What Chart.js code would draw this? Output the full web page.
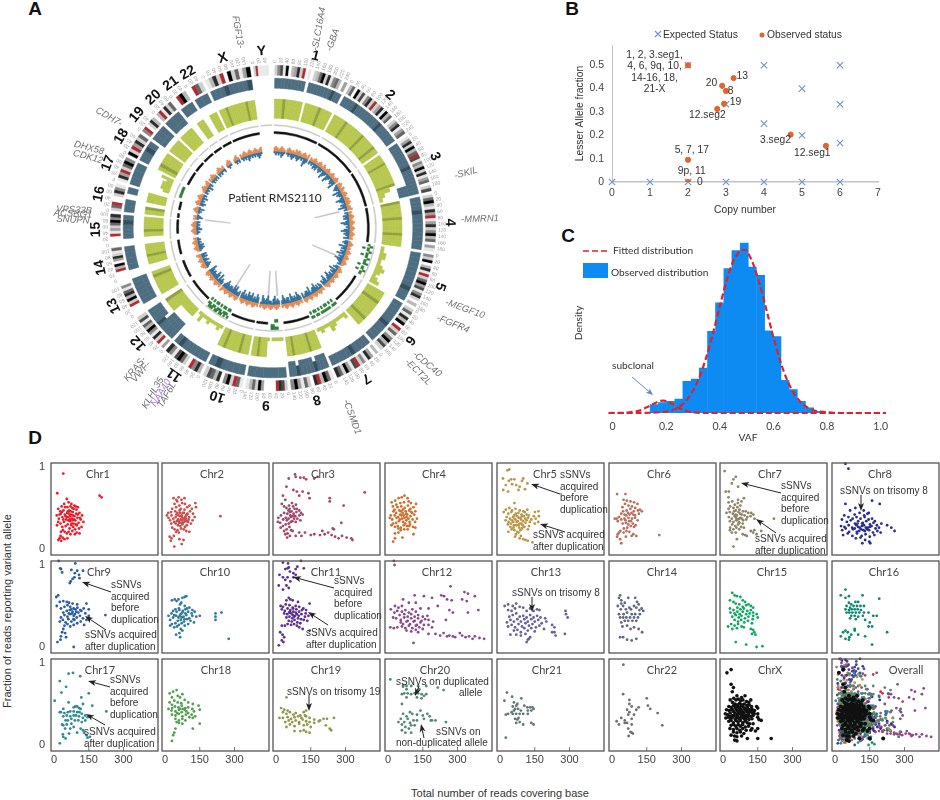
<!DOCTYPE html>
<html>
<head>
<meta charset="utf-8">
<title>Patient RMS2110</title>
<script src="https://cdn.jsdelivr.net/npm/chart.js@4/dist/chart.umd.min.js"></script>
<style>
  html, body { margin: 0; padding: 0; background: #fff; }
  #page { position: relative; width: 940px; height: 800px; overflow: hidden; }
  #page canvas { position: absolute; }
  .lbl { position: absolute; font-family: "Liberation Sans", sans-serif; color: #333; white-space: nowrap; }
  .letter { font-weight: bold; font-size: 19px; color: #111; transform: translate(-50%, -50%); }
</style>
</head>
<body>
<div id="page">
  <div class="lbl letter" style="left:35px;top:9px">A</div>
  <div class="lbl letter" style="left:572px;top:9px">B</div>
  <div class="lbl letter" style="left:568px;top:236px">C</div>
  <div class="lbl letter" style="left:35px;top:438px">D</div>
  <div class="lbl" style="left:7px;top:611px;font-size:11px;transform:translate(-50%,-50%) rotate(-90deg)">Fraction of reads reporting variant allele</div>
  <div class="lbl" style="left:500px;top:793px;font-size:11px;transform:translate(-50%,-50%)">Total number of reads covering base</div>
</div>
<script>
// panel A: one string per chromosome, one character per genome bin
const chrNames = ['1','2','3','4','5','6','7','8','9','10','11','12','13','14','15','16','17','18','19','20','21','22','X','Y'];
const chrLens = [249,243,198,191,181,171,159,146,141,135,135,133,115,107,102,90,81,78,59,63,48,51,155,59];
const ideogram = ['2571903482r010236928156304','3609271582r24819360258146','1482936r7153928146027','2693184r14825936041','5290381r26947158203','2618390r26159372','3048152r7149268','1693r80261495','278r0000492631','16r295083672','385r02697158','40r2815936172','000r29386150','000r39048216','000r1426958','26r002851','184r2695','92r4826','5r0283','3r1826','0r93','0r62','1382r0926149','2r111110'];
const cnTrack = ['11111111101111111d11','1111d11111111d111111','1111111d1111333','111d11111111','1111111d11','11111d1111','1111d11111','222d2222d22','11111','1111d1','111111d1','33333d2222','0222222','01111','0111d1','1101','111','11d1','222','22','11','11','111d1111d',''];
const alleleTrack = ['666x666666066666x6666','66666x6666666x66666x66','6666x666666666x442211','x66666x66666x6666','112211232123','666x66666x66','2111231121','6666x666666x66','1111101666x66','666x66666x66','1211121131','3333336666x','0666666x6','00666x6666','0066x66666','66x006666','0233324','6x666','6666','6666','066','066','666x66666666x666',''];
const blackTrack = ['1','1','1','1','0','1','0','1','000001111','1','0','1','0111111','0111','0111','1011','0','1','1','1','1','1','1','0'];
const dotOuter = ['','','','','0100100010010001000','','','','0110000','','10101101101110','','','','','','','','','','','','',''];
const dotMid = ['','','','','1011011101110110110','','1110111111011011','','0010000','','01110111011011','','','','','','01111110','','','','','','',''];
const dotInner = ['','','','','0010001000001001000','','0101011010101101','','0100000','','11011010110101','','','','','','','','','','','','',''];
const blueTrack = ['1212132101212321232121432','212132312321432143212324','12321423212432132412','2132312431213423213','2321423132413243212','23142313243214323','23132433214233213','234232341332342','23243122432341','34232433423243','32243423323432','2324134223234','012321321323','01232312121','0121321212','1321012131','23121312','2121312','121212','212112','01211','01212','1212132121212321','000000'];
const orangeTrack = ['2321232102321213232123213','212321232132123212321232','23213212321232321223','2123212321232123212','1232121232123212321','12321232123212321','21232123212321232','212321232123212','12321232123212','21232123212321','23212321232123','2123212321232','012321232123','01232123212','0123212321','2120012321','23212321','1232123','212321','123212','01232','01231','2123212321232123','000000'];
const radialLines = ['','','000000000000000000001','','0000000000000100000','','','','01000000100000','','00000100000000','','','','','10000000000','','','','','','','',''];
const tickStep = 20;

// panel A gene labels
const geneNames = ['FGF13-','-SLC16A4','-GBA','-SKIL','-MMRN1','-MEGF10','-FGFR4','-CDC40','-ECT2L','-CSMD1','KRAS-','VWF-','KLHL35','NAA40','TAF6L','CDH7-','DHX58','CDK12','VPS33B','ACSBG1','SNUPN'];

// panel B
const expectedCN = [0,1,2,3,4,5,6,2,3,4,4,5,5,6,6,6];
const expectedLAF = [0,0,0,0,0,0,0,0.5,0.333,0.25,0.5,0.2,0.4,0.167,0.333,0.5];
const observedCN = [2,3.2,2.9,3.0,2.95,2.77,4.7,5.63,2,2];
const observedLAF = [0.5,0.445,0.412,0.39,0.335,0.313,0.203,0.155,0.095,0];

// panel C
const vafBins = [0.155,0.186,0.216,0.247,0.277,0.308,0.338,0.369,0.399,0.43,0.46,0.491,0.521,0.552,0.582,0.613,0.643,0.674,0.704,0.735,0.765];
const vafDensity = [0.25,0.31,0.34,0.41,0.93,1.0,1.32,2.4,3.24,4.25,4.78,5.0,4.29,4.05,2.42,2.25,0.96,0.69,0.34,0.15,0.05];
const fitX = [-0.015,0.05,0.1,0.15,0.2,0.225,0.25,0.275,0.3,0.325,0.35,0.375,0.4,0.425,0.45,0.475,0.49,0.5,0.525,0.55,0.575,0.6,0.625,0.65,0.675,0.7,0.725,0.75,0.775,0.8,0.85,1.02];
const fitMain = [0,0,0,0.01,0.04,0.09,0.19,0.37,0.66,1.08,1.66,2.37,3.15,3.89,4.47,4.77,4.8,4.78,4.37,3.75,3.0,2.22,1.53,0.99,0.59,0.33,0.17,0.08,0.04,0.02,0,0];
const subX = [-0.015,0.05,0.1,0.125,0.15,0.175,0.19,0.2,0.225,0.25,0.275,0.3,0.35,0.6,1.02];
const subFit = [0,0.01,0.07,0.16,0.26,0.35,0.365,0.35,0.26,0.14,0.06,0.02,0,0,0];

// panel D: flat x, y*100 pairs
const chr1 = [40,92,197,65,205,63,14,68,63,57,71,52,55,61,44,55,88,53,97,48,33,52,27,46,18,49,12,41,21,37,29,43,36,39,41,47,47,42,52,36,57,44,61,39,66,47,69,34,73,42,77,37,81,45,84,31,88,40,92,35,96,43,101,38,106,32,110,44,115,36,121,41,127,33,119,27,108,25,99,29,91,24,83,27,74,29,67,25,59,30,50,28,43,33,36,27,28,31,18,33,13,29,46,21,55,19,63,21,71,18,79,22,90,18,98,20,110,19,30,21,38,23,24,13,31,10,19,11,28,16,37,14,45,12,58,13,79,50,75,55,85,49,93,52,103,51,48,51,58,51,64,43,70,40,80,35,86,36,62,35,55,39,76,31,94,30,72,46,82,41,68,36,60,46,50,40,40,36,34,45,103,42,112,38,24,42];
const chr2 = [239,40,37,62,49,60,59,63,71,60,84,62,74,56,53,58,41,55,62,53,86,55,106,53,131,56,134,51,116,49,96,51,68,49,48,51,31,49,26,45,14,44,8,41,15,38,28,41,44,46,53,44,63,47,76,44,84,48,97,43,108,46,121,43,128,39,119,35,104,39,95,42,87,39,78,37,66,40,56,36,46,39,36,37,22,35,27,31,39,33,51,34,61,32,73,35,81,33,90,37,100,33,112,31,94,29,86,27,75,30,66,28,56,29,46,31,31,26,41,24,54,23,69,25,81,24,92,22,60,20,48,21,38,16,28,13,20,15,25,10,62,12,40,3,72,6,80,11,105,21,72,41,82,44,91,41,58,41,68,36,78,32,88,34,49,42,102,36,64,44,74,39,84,36,94,34,60,34,70,32];
const chr3 = [55,86,82,91,85,88,105,87,120,87,130,85,165,86,180,88,45,76,75,72,90,70,100,65,115,70,140,68,145,62,383,69,292,53,232,62,232,58,282,32,245,25,40,18,48,14,60,16,72,22,85,16,100,20,110,16,125,20,150,17,165,18,190,17,200,22,210,18,225,20,240,17,250,24,255,15,270,13,285,16,305,14,325,13,330,11,30,65,40,60,25,55,35,52,56,53,69,56,86,54,45,50,59,49,74,52,90,49,100,47,108,44,115,42,101,41,88,45,76,43,60,45,49,43,35,44,21,41,10,38,8,33,18,32,31,36,42,38,54,37,64,39,78,37,92,37,105,35,85,33,71,34,55,31,42,30,30,28,20,26,46,24,58,27,65,23,50,19,35,22,67,46,80,49,54,47,72,40,62,41,83,40,47,35,64,33];
const chr4 = [30,19,45,20,30,13,62,14,22,9,110,18,16,57,31,59,46,62,59,63,71,65,84,62,99,56,121,55,89,58,69,57,53,56,36,54,21,52,28,48,41,51,57,52,72,50,86,53,97,49,110,51,118,46,104,44,91,47,76,46,63,44,49,47,35,44,23,46,12,41,8,38,18,36,29,41,44,39,58,41,71,38,83,42,97,40,113,42,125,37,117,33,106,36,93,33,79,35,65,33,51,36,35,32,22,31,15,29,30,27,42,28,55,26,68,29,82,28,95,30,108,27,118,26,70,24,55,23,45,25,85,24,64,48,78,43,88,37,100,45,52,42,61,37,74,31,91,28,37,38,47,34,68,41,80,39,56,46];
const chr5 = [32,96,40,97,13,86,25,78,38,83,48,85,52,79,62,85,70,78,95,83,100,86,85,76,80,72,118,80,108,73,14,72,35,70,62,56,25,48,16,45,40,50,52,47,67,49,85,47,101,46,118,48,151,45,166,46,36,43,49,45,61,41,79,44,93,42,107,45,124,41,146,40,168,40,29,39,43,37,56,39,68,43,81,38,95,40,109,37,121,38,135,36,154,37,165,33,24,35,37,33,51,35,63,37,76,34,88,38,100,34,115,35,129,33,150,31,34,30,47,31,60,29,72,33,85,31,98,29,110,32,125,28,45,27,58,26,70,29,83,26,95,25,105,27,120,24,62,23,75,21,88,23,36,21,50,24,69,18,80,20,90,16,65,15,85,13,100,12,110,11,120,10,140,8,74,40,91,36,66,36,103,40,57,33,79,29,115,42,92,31];
const chr6 = [22,67,58,67,50,60,64,59,80,58,95,57,110,55,71,53,56,55,45,51,86,52,100,50,121,48,129,46,112,47,94,46,79,49,63,47,48,46,40,43,54,42,69,44,84,44,100,41,116,43,30,39,20,37,12,37,25,34,40,36,54,37,71,38,86,37,99,38,111,35,46,31,60,32,74,34,90,31,102,29,81,28,66,26,95,27,51,25,36,22,25,18,22,15,30,20,35,12,50,20,62,22,75,21,92,18,105,16,60,15,85,16,40,7,204,17,76,42,62,41,92,42,58,35,82,34,70,30];
const chr7 = [7,95,45,85,55,88,38,80,65,76,12,70,25,70,24,63,24,57,65,60,90,62,40,58,64,56,80,58,51,54,62,51,75,53,31,52,24,49,45,50,55,47,71,48,86,46,98,46,109,44,122,44,131,42,15,44,29,45,42,43,54,42,67,45,81,42,93,41,105,39,119,40,136,37,25,39,38,37,50,40,62,36,76,38,87,35,100,36,30,34,45,33,57,35,71,32,85,31,40,30,53,28,65,30,78,27,31,26,45,24,58,26,70,24,90,26,120,22,130,20,135,23,145,18,165,22,220,37,38,20,30,23,85,18,95,17,103,16,55,20,60,12,45,3,60,41,70,37,56,38,48,46,74,43,68,33,82,37];
const chr8 = [45,104,58,98,160,59,193,55,45,55,88,50,124,47,146,44,65,47,85,42,106,44,126,41,140,43,40,41,58,39,76,37,93,39,110,37,128,39,145,36,160,37,172,34,30,36,51,33,68,35,86,31,100,34,117,31,135,34,151,30,166,32,181,29,200,31,26,28,41,27,59,29,74,26,92,29,107,26,125,29,141,26,158,28,175,25,190,26,31,23,46,25,61,21,78,24,94,21,113,24,129,22,147,23,164,20,183,22,197,20,35,17,55,19,75,16,95,19,115,16,132,18,150,15,170,17,90,13,110,14,130,11,148,9,118,7,152,7,225,29,243,26,257,22,100,27,116,28,133,26,150,27,85,25,122,23,139,24,104,22,120,32,97,31];
const chr9 = [20,105,92,102,30,95,27,96,35,91,75,94,90,90,100,93,108,88,125,93,72,80,80,83,88,85,68,78,110,84,18,63,10,61,25,55,40,56,55,55,65,54,80,53,100,52,140,53,12,50,30,47,45,49,58,51,70,49,85,47,101,48,113,45,128,47,150,46,222,39,40,42,55,44,68,45,80,43,92,46,105,42,118,44,135,41,150,38,30,36,45,39,58,37,70,40,85,38,98,36,112,38,125,35,140,33,25,31,38,33,50,30,62,34,75,31,88,33,100,29,115,31,130,27,45,26,58,28,70,25,85,27,40,22,35,18,48,17,30,13,52,12,28,9,15,6,85,0,78,41,90,40,74,46,64,41,96,43,84,34];
const chr10 = [30,57,42,58,50,56,58,58,65,52,75,60,85,61,92,62,70,54,85,50,95,47,105,48,118,45,60,47,45,46,35,44,50,43,62,45,75,42,88,46,100,43,115,41,128,43,40,39,28,41,15,38,22,33,35,36,48,38,58,36,68,40,80,37,92,39,105,35,118,38,135,37,150,38,55,32,68,33,82,31,95,34,110,32,125,30,45,29,60,27,72,29,85,26,100,28,30,28,22,26,40,24,52,25,68,22,75,20,62,17,48,15,65,12,218,41,244,42,218,37,218,33,275,10,77,44,88,41,72,36,84,34,64,38];
const chr11 = [30,103,52,102,108,105,40,95,50,96,55,97,85,95,92,98,120,96,75,90,85,88,60,92,15,88,30,85,40,82,50,85,62,80,75,85,12,75,30,70,45,75,55,72,55,60,62,58,45,57,72,57,95,55,145,53,20,50,30,49,42,52,58,51,72,48,85,50,100,49,118,47,130,45,25,46,38,44,50,47,62,45,75,43,88,46,100,43,112,45,128,41,35,41,48,40,60,43,72,39,85,42,98,38,110,40,125,37,140,38,45,36,58,37,70,35,82,38,95,35,108,34,120,33,135,32,55,32,68,31,80,33,92,30,105,29,65,27,78,28,90,26,50,28,38,26,100,24,115,22,145,20,25,26,18,18,28,15,35,12,25,8,12,2,32,6,66,41,78,37,90,40,74,47,57,42];
const chr12 = [25,105,28,100,270,74,330,67,345,65,375,62,230,63,242,62,255,58,275,57,320,58,340,56,115,63,155,62,190,60,65,58,90,54,120,54,60,50,45,48,30,50,12,46,28,42,22,36,40,44,60,43,75,45,90,42,105,46,120,43,140,47,175,47,215,50,265,45,280,42,345,42,390,45,50,39,70,40,85,37,100,40,115,37,130,39,150,37,170,38,35,35,55,33,70,36,85,32,100,35,115,32,130,35,145,32,160,34,175,33,195,31,250,33,10,24,25,23,40,24,55,30,65,28,80,31,95,28,110,31,125,27,140,30,155,27,175,27,190,24,60,25,75,23,90,26,105,23,120,26,135,24,150,22,80,20,100,19,120,21,130,18,175,16,205,16,225,14,240,17,255,13,265,14,280,13,290,12,310,17,320,14,335,12,350,13,365,10,375,13,395,11,415,10,110,5];
const chr13 = [20,50,35,52,55,50,70,53,85,49,35,45,50,44,65,47,100,48,115,44,130,47,145,44,160,46,170,45,283,44,285,40,292,36,40,37,55,39,70,41,85,37,100,38,115,36,130,39,145,36,160,38,175,36,195,35,30,30,45,33,60,31,75,34,90,31,105,34,120,31,135,34,150,31,165,33,180,29,200,31,225,27,235,24,35,25,50,27,65,24,80,28,95,25,110,29,125,26,140,28,155,24,170,26,190,22,60,20,75,21,90,18,105,23,120,20,135,23,150,19,70,15,90,14,110,16,130,12,120,9,115,6,125,10,225,18,235,18,240,14,280,16,45,15];
const chr14 = [35,63,40,57,70,60,100,60,108,55,115,52,55,54,40,53,25,50,48,50,75,48,95,50,105,48,128,47,38,46,60,46,82,46,118,45,135,44,30,40,50,40,65,42,85,40,100,40,120,40,35,36,48,36,62,36,78,36,95,36,112,36,40,30,55,32,70,32,88,32,105,32,65,26,45,25,80,22,95,24,115,22,35,12,48,12,65,9,85,8,105,10,130,18,30,60];
const chr15 = [40,66,50,63,60,62,75,61,85,57,95,55,110,52,30,57,45,55,55,53,70,52,85,49,100,51,120,50,130,48,30,47,45,45,62,48,75,46,90,47,105,44,120,45,130,42,145,40,32,42,50,41,62,43,72,40,85,43,100,40,115,41,130,38,150,36,40,37,55,39,68,36,80,38,95,35,110,37,128,34,50,33,65,31,78,33,92,30,108,32,125,29,35,28,50,26,65,28,80,25,22,25,40,22,60,23,90,24,120,22,130,21,135,18,125,16,140,15,55,6,100,3,145,0,170,1];
const chr16 = [45,70,25,63,60,62,119,63,191,59,45,60,60,54,88,55,70,52,100,55,50,50,65,48,80,50,95,50,110,50,125,50,45,46,60,45,72,46,85,46,98,46,112,45,50,42,62,42,75,42,90,42,105,42,125,42,145,42,165,38,180,38,70,38,85,38,100,37,120,38,65,35,90,34,130,33,150,30,160,25,25,13,35,18,45,20,55,18,62,12,70,15,85,22,100,15,45,10,60,9,85,20,145,25,225,18,160,3,130,13];
const chr17 = [63,87,82,88,113,84,25,78,52,71,32,64,118,58,150,63,3,54,63,52,85,46,92,47,100,47,108,45,115,44,125,50,165,48,226,41,40,44,30,40,25,40,45,39,60,40,70,41,85,41,100,40,110,40,120,38,135,36,145,34,155,35,40,35,55,36,70,35,85,36,95,36,108,35,125,33,135,30,120,28,105,30,90,30,75,32,60,30,50,30,35,25,55,25,75,26,48,20,40,24,70,20,65,14,85,22,100,15,115,20,125,18,130,15,140,12,155,10,38,13,40,10,50,8,25,2,145,9];
const chr18 = [20,63,35,65,50,67,55,60,65,58,75,62,30,58,40,54,20,52,30,49,55,52,70,51,85,55,100,52,120,50,145,48,150,43,31,45,43,47,58,46,72,48,88,45,100,46,118,44,125,41,15,44,28,42,45,41,60,43,72,40,85,43,100,39,115,37,130,35,30,37,45,36,60,38,75,35,90,37,105,34,120,33,45,32,60,30,75,32,88,30,60,27,50,28,75,26,150,26,120,20,45,20,40,15,35,12,30,5,66,44,78,44,92,41,52,39];
const chr19 = [45,58,22,45,35,43,50,42,30,40,45,38,60,40,75,37,85,39,105,36,120,40,130,42,130,35,15,33,30,33,50,34,65,32,80,34,95,35,110,33,125,36,145,33,165,31,190,30,205,32,220,32,250,33,40,28,55,30,70,28,85,30,100,28,115,31,130,29,145,28,165,27,185,29,215,24,232,20,238,18,45,22,60,25,80,23,100,26,120,24,135,25,150,22,80,17,105,17,120,18,130,16,145,15];
const chr20 = [10,80,65,73,80,72,100,72,130,72,135,68,165,72,215,70,240,67,65,71,80,68,60,62,70,63,85,63,100,62,115,63,130,63,145,62,155,60,165,62,125,58,145,57,80,58,60,50,65,38,80,35,95,40,105,38,125,37,140,42,150,36,155,32,170,38,180,35,190,30,205,30,55,32,70,28,85,32,95,27,110,30,125,30,45,28,60,25,75,22,90,20,100,24,115,24,60,18,75,15,100,15,250,28,185,30];
const chr21 = [30,64,52,59,92,57,19,54,60,52,75,50,70,48,55,47,65,44,78,44,90,42,105,48,118,46,130,46,140,46,145,44,135,42,120,42,60,42,50,40,35,38,25,37,55,38,70,38,85,38,100,38,120,38,80,33,75,31,65,32,85,28,70,27,100,25,25,9,135,27,145,25];
const chr22 = [49,98,48,62,75,55,150,57,75,50,85,47,115,46,105,43,65,43,75,40,95,37,197,39,155,48,165,44,20,29,30,25,40,33,55,30,70,37,85,32,55,27,65,27,85,25,70,20,80,16,85,15,90,14,217,24,72,11];
const chrX = [17,88,35,92,35,74,45,70,40,65,60,60,80,58,95,60,120,55,31,55,46,57,56,55,66,56,76,54,86,55,101,53,111,52,41,52,52,50,63,49,72,51,82,49,92,50,103,48,113,49,123,47,145,47,150,45,25,47,35,46,46,48,55,45,65,47,75,44,85,47,95,44,105,46,115,43,125,44,136,42,15,43,26,42,36,43,45,41,56,44,66,41,75,43,86,40,95,43,105,40,116,41,126,39,135,38,150,38,10,38,20,37,31,39,41,36,51,39,60,36,71,38,80,37,91,39,100,36,110,38,120,35,130,36,12,33,22,34,33,32,42,34,53,31,62,35,72,32,82,35,92,32,102,34,112,31,125,32,150,34,25,29,35,30,45,27,56,30,65,28,75,30,85,27,95,29,105,27,115,26,130,26,155,31,35,24,46,25,55,23,66,25,75,23,85,25,96,22,110,23,125,20,30,20,45,19,60,20,72,18,85,20,100,18,120,18,45,16,60,15,75,16,90,14,140,17,150,20,35,12,50,11,60,10,80,11,105,8,150,8,50,6,60,5,208,8,165,30,80,42,70,45,90,45,60,42,100,42,78,34,88,33,68,33,58,33,98,31,48,36,110,35,120,42,40,44,30,35,73,40,83,38,63,38,93,36,53,47,78,48,108,44,130,41];

const panelNames = ['Chr1','Chr2','Chr3','Chr4','Chr5','Chr6','Chr7','Chr8','Chr9','Chr10','Chr11','Chr12','Chr13','Chr14','Chr15','Chr16','Chr17','Chr18','Chr19','Chr20','Chr21','Chr22','ChrX','Overall'];
const panelColors = ['#e8202c','#c8504f','#a0486a','#d07030','#b89848','#b87060','#8f8468','#2a2e90','#2c5ca0','#2f7a9c','#5a3090','#8a4a8c','#6a6098','#606880','#10a860','#108870','#308898','#50a050','#909848','#508878','#607878','#707070','#111111'];
const panelSeries = [chr1,chr2,chr3,chr4,chr5,chr6,chr7,chr8,chr9,chr10,chr11,chr12,chr13,chr14,chr15,chr16,chr17,chr18,chr19,chr20,chr21,chr22,chrX];

const beforeDup = ['sSNVs','acquired','before','duplication'];
const afterDup = ['sSNVs acquired','after duplication'];
// annotation layout inside each small frame
const panelNotes = {
  Chr5:  { text: [[63,12,beforeDup],[36,72,afterDup]], arrows: [[63,31,34,21],[68,69,43,61]] },
  Chr7:  { text: [[61,23,beforeDup],[35,76,afterDup]], arrows: [[61,30,21,20],[56,70,36,56]] },
  Chr8:  { text: [[8,28,['sSNVs on trisomy 8']]], arrows: [[29,32,29,48]] },
  Chr9:  { text: [[60,24,beforeDup],[34,74,afterDup]], arrows: [[60,31,31,21],[55,69,34,55]] },
  Chr11: { text: [[61,20,beforeDup],[33,72,afterDup]], arrows: [[61,27,20,16],[55,64,35,51]] },
  Chr13: { text: [[15,32,['sSNVs on trisomy 8']]], arrows: [[35,36,35,51]] },
  Chr17: { text: [[59,21,beforeDup],[33,73,afterDup]], arrows: [[59,28,37,22],[54,66,35,55]] },
  Chr19: { text: [[14,33,['sSNVs on trisomy 19']]], arrows: [[36,36,36,52]] },
  Chr20: { text: [[11,23,['sSNVs on duplicated']],[74,34,['allele']],[51,73,['sSNVs on']],[11,84,['non-duplicated allele']]], arrows: [[34,27,30,37],[39,79,36,65]] },
};
const titleOffsets = [47,50,50,49,48,50,50,48,48,53,53,52,49,53,52,52,49,54,53,50,50,53,50,74];

Chart.defaults.font.family = '"Liberation Sans", sans-serif';
Chart.defaults.animation = false;
Chart.defaults.events = [];
Chart.defaults.plugins.legend.display = false;
Chart.defaults.plugins.tooltip.enabled = false;

const page = document.getElementById('page');
function addCanvas(left, top, w, h) {
  const c = document.createElement('canvas');
  c.width = w; c.height = h;
  c.style.left = left + 'px'; c.style.top = top + 'px';
  c.style.width = w + 'px'; c.style.height = h + 'px';
  page.appendChild(c);
  return c;
}
function arrow(ctx, x1, y1, x2, y2, color, headLen, headW) {
  const a = Math.atan2(y2 - y1, x2 - x1);
  ctx.save();
  ctx.strokeStyle = color; ctx.fillStyle = color; ctx.lineWidth = 1;
  ctx.beginPath(); ctx.moveTo(x1, y1);
  ctx.lineTo(x2 - Math.cos(a) * headLen * 0.7, y2 - Math.sin(a) * headLen * 0.7); ctx.stroke();
  ctx.translate(x2, y2); ctx.rotate(a);
  ctx.beginPath(); ctx.moveTo(0, 0); ctx.lineTo(-headLen, headW / 2); ctx.lineTo(-headLen * 0.75, 0); ctx.lineTo(-headLen, -headW / 2);
  ctx.closePath(); ctx.fill();
  ctx.restore();
}
// fixed axis box with no extra room for overhanging tick labels
function fixHeight(h) { return s => { s.height = h; s.paddingLeft = 0; s.paddingRight = 0; }; }
function fixWidth(w) { return s => { s.width = w; s.paddingTop = 0; s.paddingBottom = 0; }; }

// ---------- panel A ----------
const gapMb = 12;
const totalMb = chrLens.reduce((a, b) => a + b, 0) + gapMb * chrLens.length;
const slate = '#4d6d80', slateDark = '#34505f', olive = '#b7c64c', oliveDark = '#8f9f3c';
const blue = '#2f6f9e', orange = '#e08a52', dotGreen = '#2f7d3a';
const grays = ['#ffffff','#e8e8e8','#d0d0d0','#b8b8b8','#a0a0a0','#888888','#666666','#4a4a4a','#2a2a2a','#000000'];

function ring(tracks, colorOf, weight) {
  const data = [gapMb / 2], bg = ['transparent'];
  tracks.forEach((s, i) => {
    const parts = s || '0';
    for (const ch of parts) { data.push(chrLens[i] / parts.length); bg.push(colorOf(ch)); }
    data.push(gapMb); bg.push('transparent');
  });
  data[data.length - 1] = gapMb / 2;
  return { data, backgroundColor: bg, borderColor: bg, borderWidth: 0.5, weight };
}
const levelColor = (lvl, col) => ch => (ch !== 'x' && ch !== 'd' && Number(ch) >= lvl) ? col : 'transparent';
const allChr = chrLens.map(() => '');
const alleleLevel = lvl => ch => ch === 'x' ? oliveDark : (Number(ch) >= lvl ? olive : 'transparent');
const cnLevel = lvl => ch => ch === 'd' ? (lvl === 1 ? slateDark : 'transparent') : (Number(ch) >= lvl ? slate : 'transparent');
// the first dataset is the outermost ring
const ringDatasets = [
  ring(ideogram, ch => ch === 'r' ? '#b02a30' : grays[Number(ch)], 10),
  ring(allChr, () => 'transparent', 3),
  ring(cnTrack, cnLevel(1), 10),
  ring(cnTrack, cnLevel(2), 5),
  ring(cnTrack, cnLevel(3), 5),
  ring(allChr, () => 'transparent', 0.8),
  ring(alleleTrack, alleleLevel(6), 3.2),
  ring(alleleTrack, alleleLevel(5), 3.2),
  ring(alleleTrack, alleleLevel(4), 3.2),
  ring(alleleTrack, alleleLevel(3), 3.2),
  ring(alleleTrack, alleleLevel(2), 3.2),
  ring(alleleTrack, alleleLevel(1), 3.2),
  ring(allChr, () => 'transparent', 6.5),
  ring(chrLens.map(() => '1'), () => '#c8c8c8', 1),
  ring(allChr, () => 'transparent', 0.5),
  ring(dotOuter, ch => ch === '1' ? dotGreen : 'transparent', 3),
  ring(dotMid, ch => ch === '1' ? dotGreen : 'transparent', 2.5),
  ring(blackTrack, ch => ch === '1' ? '#111' : 'transparent', 2),
  ring(dotInner, ch => ch === '1' ? dotGreen : 'transparent', 3),
  ring(allChr, () => 'transparent', 9.5),
  ring(orangeTrack, levelColor(3, orange), 1.5),
  ring(orangeTrack, levelColor(2, orange), 1.5),
  ring(orangeTrack, levelColor(1, orange), 2),
  ring(blueTrack, levelColor(1, blue), 2),
  ring(blueTrack, levelColor(2, blue), 2),
  ring(blueTrack, levelColor(3, blue), 2),
  ring(blueTrack, levelColor(4, blue), 3),
  ring(radialLines, ch => ch === '1' ? '#c4c4c4' : 'transparent', 25),
];

function chrStart(i) {
  return gapMb / 2 + chrLens.slice(0, i).reduce((a, b) => a + b + gapMb, 0);
}
const circosLabels = {
  id: 'circosLabels',
  afterDraw(chart) {
    const ctx = chart.ctx;
    const cx = (chart.chartArea.left + chart.chartArea.right) / 2;
    const cy = (chart.chartArea.top + chart.chartArea.bottom) / 2;
    ctx.save();
    ctx.textBaseline = 'middle';
    chrNames.forEach((name, i) => {
      // small Mb ticks round the ideogram
      ctx.font = '5px "Liberation Sans"'; ctx.fillStyle = '#a0a0a0'; ctx.textAlign = 'left';
      for (let mb = 0; mb <= chrLens[i]; mb += tickStep) {
        const t = (chrStart(i) + mb) / totalMb * 2 * Math.PI;
        ctx.save();
        ctx.translate(cx + 165 * Math.sin(t), cy - 165 * Math.cos(t));
        ctx.rotate(t - Math.PI / 2);
        ctx.fillText(String(mb), 0, 0);
        ctx.restore();
      }
      const mid = (chrStart(i) + chrLens[i] / 2) / totalMb * 2 * Math.PI;
      ctx.save();
      ctx.translate(cx + 177 * Math.sin(mid), cy - 177 * Math.cos(mid));
      ctx.rotate(mid);
      ctx.font = 'bold 14px "Liberation Sans"'; ctx.fillStyle = '#111'; ctx.textAlign = 'center';
      ctx.fillText(name, 0, 0);
      ctx.restore();
    });
    // gene labels
    const geneAt = [[238,32,80],[319,29,-80],[333,40,-70],[466,173,-15],[480,219,-2],[465,309,20],[453,324,22],[427,364,40],[418,372,45],[352,417,70],[135,369,-50],[141,372,-50],[153,393,-60],[161,393,-60],[167,395,-60],[109,117,30],[89,148,15],[88,157,15],[74,210,3],[73,214,3],[73,220,3]];
    ctx.font = 'italic 9.5px "Liberation Sans"'; ctx.textAlign = 'center';
    geneNames.forEach((g, i) => {
      ctx.save();
      ctx.translate(geneAt[i][0], geneAt[i][1]);
      ctx.rotate(geneAt[i][2] * Math.PI / 180);
      ctx.fillStyle = g === 'NAA40' ? '#a878e8' : '#707070';
      ctx.fillText(g, 0, 0);
      ctx.restore();
    });
    ctx.font = '12px Lato'; ctx.fillStyle = '#222'; ctx.textAlign = 'center';
    ctx.fillText('Patient RMS2110', 275, 198);
    ctx.restore();
  }
};
new Chart(addCanvas(0, 0, 546, 456), {
  type: 'doughnut',
  data: { datasets: ringDatasets },
  options: {
    responsive: false,
    cutout: 43,
    layout: { padding: { left: 110, right: 110, top: 65, bottom: 65 } },
  },
  plugins: [circosLabels],
});

// ---------- panel B ----------
const statusLabels = {
  id: 'statusLabels',
  afterDraw(chart) {
    const ctx = chart.ctx, x = chart.scales.x, y = chart.scales.y;
    const rows = [
      [1.12,0.544,'1, 2, 3.seg1,'],[1.12,0.494,'4, 6, 9q, 10,'],[1.12,0.444,'14-16, 18,'],[1.12,0.397,'21-X'],
      [3.43,0.453,'13'],[2.62,0.423,'20'],[3.12,0.389,'8'],[3.25,0.342,'19'],[2.51,0.287,'12.seg2'],
      [4.3,0.18,'3.seg2'],[5.27,0.123,'12.seg1'],[2.1,0.137,'5, 7, 17'],[2.1,0.047,'9p, 11'],[2.31,-0.002,'0'],
    ];
    ctx.save();
    ctx.font = '10.3px "Liberation Sans"'; ctx.fillStyle = '#333';
    ctx.textAlign = 'center'; ctx.textBaseline = 'middle';
    rows.forEach(r => ctx.fillText(r[2], x.getPixelForValue(r[0]), y.getPixelForValue(r[1])));
    // legend
    ctx.textAlign = 'left';
    ctx.strokeStyle = '#6f94c8'; ctx.lineWidth = 1.1;
    ctx.beginPath(); ctx.moveTo(115, 31); ctx.lineTo(121, 37); ctx.moveTo(121, 31); ctx.lineTo(115, 37); ctx.stroke();
    ctx.fillStyle = '#333'; ctx.fillText('Expected Status', 123, 35);
    ctx.fillStyle = '#e0642c'; ctx.beginPath(); ctx.arc(222, 35, 2.5, 0, 7); ctx.fill();
    ctx.fillStyle = '#333'; ctx.fillText('Observed status', 227, 35);
    ctx.restore();
  }
};
new Chart(addCanvas(540, 0, 400, 220), {
  type: 'scatter',
  data: {
    datasets: [
      { label: 'Observed status', data: observedCN.map((x, i) => ({ x, y: observedLAF[i] })), pointStyle: 'circle', pointRadius: 2.6, backgroundColor: '#e0642c', borderColor: '#e0642c', order: 1 },
      { label: 'Expected Status', data: expectedCN.map((x, i) => ({ x, y: expectedLAF[i] })), pointStyle: 'crossRot', pointRadius: 4.5, borderColor: '#6f94c8', borderWidth: 1.1, backgroundColor: '#6f94c8', order: 2, clip: false },
    ],
  },
  options: {
    responsive: false,
    layout: { padding: { left: 34, right: 62, top: 45, bottom: 4 } },
    scales: {
      x: {
        min: 0, max: 7,
        afterFit: fixHeight(34),
        grid: { display: false, drawTicks: false },
        border: { color: '#c4c4c4', width: 1.5 },
        ticks: { stepSize: 1, color: '#444', font: { size: 10.5 }, padding: 5 },
        title: { display: true, text: 'Copy number', color: '#333', font: { size: 10.3 }, padding: 0 },
      },
      y: {
        min: 0, max: 0.5867,
        afterFit: fixWidth(38),
        afterBuildTicks: ax => { ax.ticks = [0, 0.1, 0.2, 0.3, 0.4, 0.5].map(value => ({ value })); },
        grid: { display: false, drawTicks: false },
        border: { color: '#c4c4c4', width: 1 },
        ticks: { color: '#444', font: { size: 10.5 }, padding: 8 },
        title: { display: true, text: 'Lesser Allele fraction', color: '#333', font: { size: 10.3 }, padding: 0 },
      },
    },
  },
  plugins: [statusLabels],
});

// ---------- panel C ----------
const vafLabels = {
  id: 'vafLabels',
  afterDraw(chart) {
    const ctx = chart.ctx;
    ctx.save();
    ctx.strokeStyle = '#e0202c'; ctx.lineWidth = 1.5; ctx.setLineDash([6, 3]);
    ctx.beginPath(); ctx.moveTo(43, 31); ctx.lineTo(69, 31); ctx.stroke();
    ctx.setLineDash([]);
    ctx.fillStyle = '#0d8bf2'; ctx.fillRect(43, 43, 25, 15);
    ctx.font = '10.2px Lato'; ctx.fillStyle = '#333'; ctx.textBaseline = 'middle';
    ctx.fillText('Fitted distribution', 73, 31);
    ctx.fillText('Observed distribution', 71, 53);
    ctx.fillText('subclonal', 72, 146);
    ctx.restore();
    arrow(ctx, 92, 157, 113, 175, '#5f8fc0', 7, 6);
    ctx.save();
    ctx.font = '10.2px Lato'; ctx.fillStyle = '#333'; ctx.textAlign = 'center'; ctx.textBaseline = 'middle';
    ctx.fillText('VAF', 208, 218);
    ctx.translate(39, 103); ctx.rotate(-Math.PI / 2);
    ctx.fillText('Density', 0, 0);
    ctx.restore();
  }
};
const fitLine = (xs, ys) => ({
  type: 'line',
  data: xs.map((x, i) => ({ x, y: ys[i] })),
  borderColor: '#e0202c', borderWidth: 2.2, borderDash: [6, 3], pointRadius: 0, tension: 0.3, order: 0,
  yAxisID: 'y', clip: false,
});
new Chart(addCanvas(540, 220, 400, 225), {
  type: 'bar',
  data: {
    datasets: [
      { type: 'bar', data: vafBins.map((x, i) => ({ x, y: vafDensity[i] })), backgroundColor: '#0d8bf2', barPercentage: 1, categoryPercentage: 1, order: 1 },
      fitLine(fitX, fitMain),
      fitLine(subX, subFit),
    ],
  },
  options: {
    responsive: false,
    layout: { padding: { left: 67.3, right: 51.3, top: 20, bottom: 0 } },
    scales: {
      x: {
        type: 'linear', min: -0.02, max: 1.03, offset: false,
        afterFit: fixHeight(32),
        afterBuildTicks: ax => { ax.ticks = [0, 0.2, 0.4, 0.6, 0.8, 1].map(value => ({ value })); },
        grid: { display: false, drawTicks: false },
        border: { display: false },
        ticks: { color: '#444', font: { family: 'Lato', size: 10.5 }, padding: 7, autoSkip: false, maxRotation: 0 },
      },
      y: { display: false, min: 0, max: 5.09 },
    },
  },
  plugins: [vafLabels],
});

// ---------- panel D ----------
const colLeft = [50.7,162,273.3,384.7,497.3,609,720.3,831.7];
const rowTop = [462.7,560.7,659];
const frameW = 107, frameH = 92, margin = 4;
const toPoints = arr => {
  const out = [];
  for (let i = 0; i < arr.length; i += 2) out.push({ x: arr[i], y: arr[i + 1] / 100 });
  return out;
};
panelNames.forEach((name, i) => {
  const col = i % 8, row = Math.floor(i / 8);
  const firstCol = col === 0, lastRow = row === 2;
  const yw = firstCol ? 20 : 0, xh = lastRow ? 18 : 0;
  const left = colLeft[col] - margin - yw, top = rowTop[row] - margin;
  const canvas = addCanvas(Math.round(left), Math.round(top), Math.round(frameW + 2 * margin + yw), Math.round(frameH + 2 * margin + xh));
  // lower order draws on top, so chrX stays in front on the Overall panel
  const datasets = name === 'Overall'
    ? panelSeries.map((s, k) => ({ data: toPoints(s), backgroundColor: panelColors[k], pointRadius: k === 22 ? 2 : 1.4, borderWidth: 0, clip: false, order: 22 - k }))
    : [{ data: toPoints(panelSeries[i]), backgroundColor: panelColors[i], pointRadius: name === 'ChrX' ? 1.8 : 1.4, borderWidth: 0, clip: false }];
  const decor = {
    id: 'panelDecor',
    afterDraw(chart) {
      const ctx = chart.ctx, a = chart.chartArea;
      ctx.save();
      ctx.strokeStyle = '#555'; ctx.lineWidth = 1.3;
      ctx.strokeRect(a.left, a.top, a.right - a.left, a.bottom - a.top);
      if (lastRow) {
        ctx.lineWidth = 0.8;
        [150, 300].forEach(v => {
          const px = chart.scales.x.getPixelForValue(v);
          ctx.beginPath(); ctx.moveTo(px, a.bottom); ctx.lineTo(px, a.bottom - 4); ctx.stroke();
        });
      }
      ctx.fillStyle = '#444'; ctx.font = '11px Lato'; ctx.textAlign = 'center'; ctx.textBaseline = 'middle';
      ctx.fillText(name, a.left + titleOffsets[i], a.top + 11);
      const note = panelNotes[name];
      if (note) {
        ctx.font = '10px "Liberation Sans"'; ctx.fillStyle = '#333'; ctx.textAlign = 'left';
        note.text.forEach(t => t[2].forEach((line, k) => ctx.fillText(line, a.left + t[0], a.top + t[1] + k * 11.8)));
        note.arrows.forEach(v => arrow(ctx, a.left + v[0], a.top + v[1], a.left + v[2], a.top + v[3], '#222', 8, 6));
      }
      ctx.restore();
    }
  };
  new Chart(canvas, {
    type: 'scatter',
    data: { datasets },
    options: {
      responsive: false,
      layout: { padding: { left: margin, right: margin, top: margin, bottom: margin } },
      scales: {
        x: {
          min: -13, max: 449,
          afterFit: fixHeight(xh),
          afterBuildTicks: ax => { ax.ticks = [0, 150, 300].map(value => ({ value })); },
          grid: { display: false, drawTicks: false },
          border: { display: false },
          ticks: { display: lastRow, color: '#444', font: { size: 11 }, padding: 2, autoSkip: false, maxRotation: 0 },
        },
        y: {
          min: -0.073, max: 1.049,
          afterFit: fixWidth(yw),
          afterBuildTicks: ax => { ax.ticks = [0, 1].map(value => ({ value })); },
          grid: { display: false, drawTicks: false },
          border: { display: false },
          ticks: { display: firstCol, color: '#444', font: { size: 11 }, padding: 6 },
        },
      },
    },
    plugins: [decor],
  });
});
</script>
</body>
</html>
